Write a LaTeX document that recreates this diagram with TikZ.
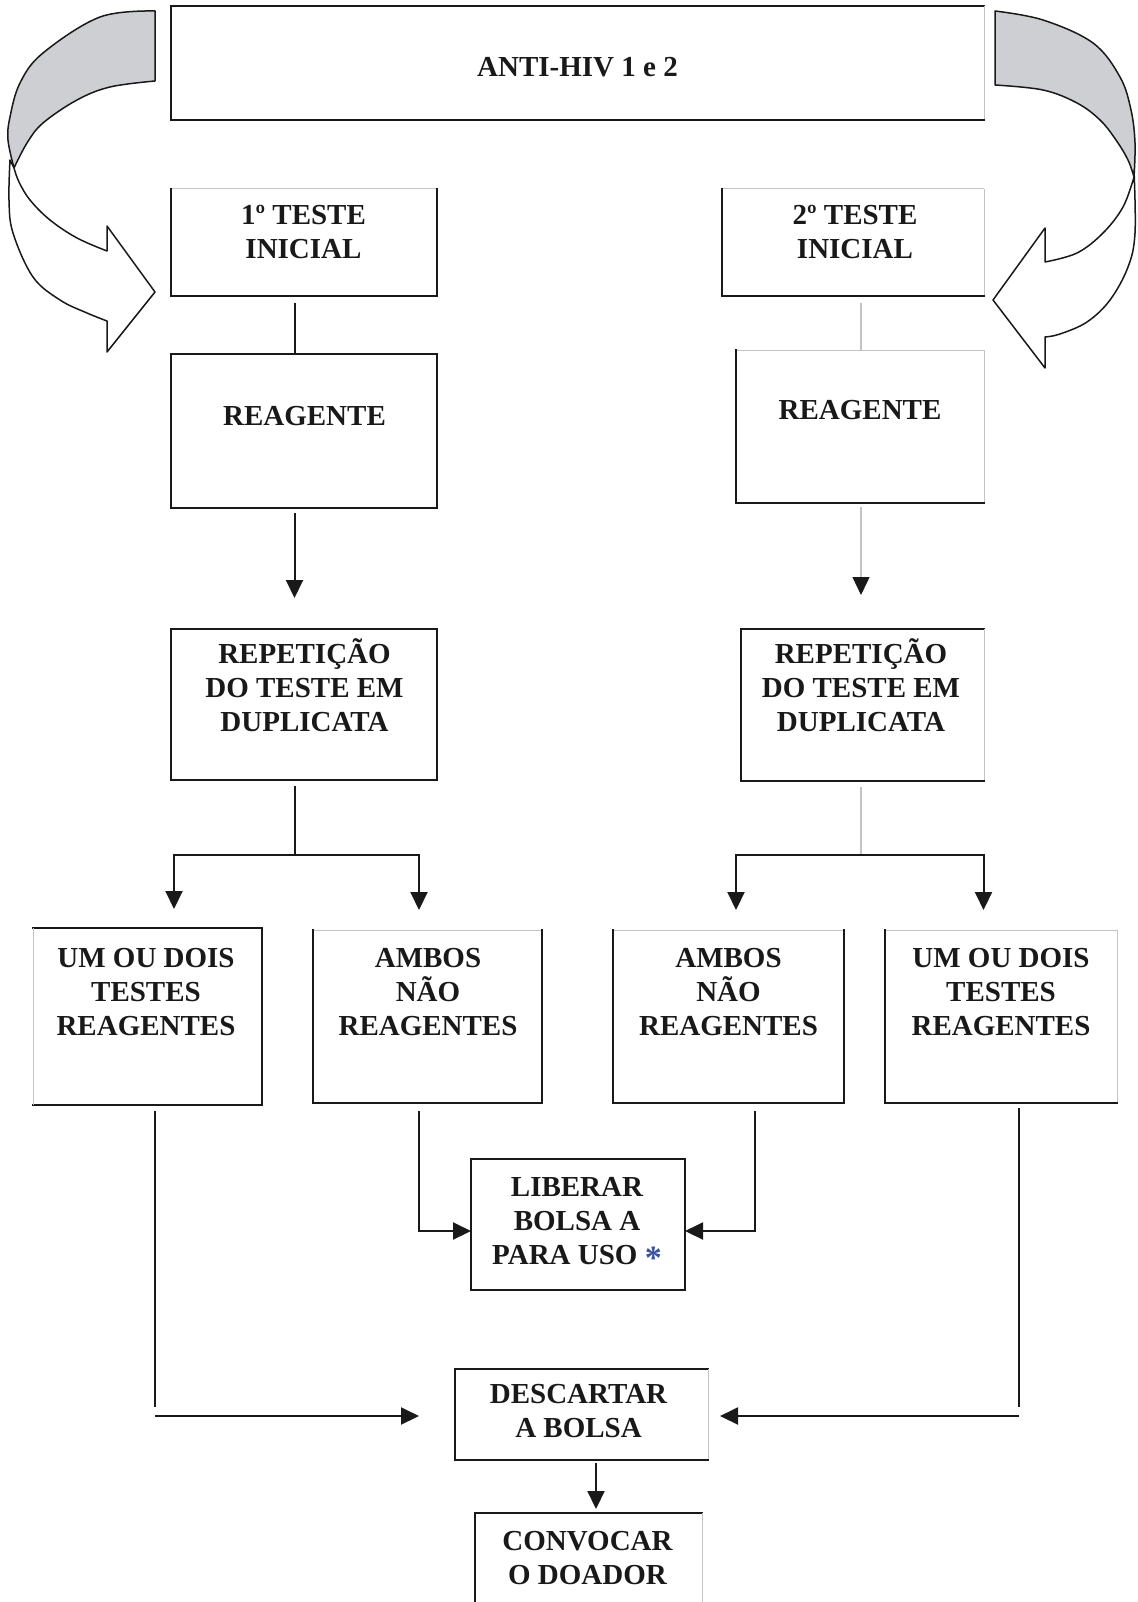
\documentclass[tikz,border=0pt]{standalone}
\usepackage{fontspec}
\setmainfont{Liberation Serif}
\usetikzlibrary{arrows.meta,calc}

\definecolor{ink}{RGB}{25,25,25}
\definecolor{edgegrey}{RGB}{195,195,195}
\definecolor{bandgrey}{RGB}{205,207,210}
\definecolor{starblue}{RGB}{60,80,160}

% strut that fixes the height of the first text line
\newcommand\tstrut{\rule{0pt}{27pt}}

% draw the four sides of a box node, each with its own style
% #1 node, #2 top, #3 right, #4 bottom, #5 left
\newcommand\boxsides[5]{%
  \draw[#2] (#1.north west) -- (#1.north east);
  \draw[#3] (#1.north east) -- (#1.south east);
  \draw[#4] (#1.south east) -- (#1.south west);
  \draw[#5] (#1.south west) -- (#1.north west);}

\tikzset{
  box/.style={rectangle, draw=none, inner sep=0pt, outer sep=0pt},
  txt/.style={anchor=north, inner sep=0pt, align=center, text=ink,
              font=\fontsize{29}{34}\selectfont\bfseries},
  ek/.style={draw=ink, line width=2pt, line cap=rect},
  eg/.style={draw=edgegrey, line width=1pt},
  en/.style={draw=none},
  link/.style={draw=ink, line width=2pt},
  glink/.style={draw=edgegrey, line width=1.2pt},
  arr/.style={link, -{Triangle[length=18pt, width=17pt]}},
  garr/.style={glink, -{Triangle[length=18pt, width=17pt, color=ink]}},
  band/.style={fill=bandgrey, draw=ink, line width=1.5pt, line join=round},
  front/.style={fill=white, draw=ink, line width=1.5pt, line join=round},
}

\begin{document}
\begin{tikzpicture}[x=1pt, y=-1pt]
\useasboundingbox (0,0) rectangle (1137,1602);

% ---------- curved arrows around the heading ----------
% left: shaded back part, then the white front with its head
\draw[band] plot[smooth, tension=0.6] coordinates
  {(155,11) (100,17) (43,53) (20,83) (10,117) (8,140) (14,168)}
  -- plot[smooth, tension=0.6] coordinates
  {(14,168) (27,143) (43,123) (77,100) (110,87) (155,81)} -- cycle;
\draw[front] plot[smooth, tension=0.6] coordinates
  {(10,160) (9,200) (13,233) (33,277) (60,300) (87,313) (107,321)}
  -- (107,352) -- (155,292) -- (107,226) -- (107,251)
  -- plot[smooth, tension=0.6] coordinates
  {(107,251) (77,238) (50,220) (30,200) (19,182) (14,168)} -- cycle;

% right: mirrored shape
\draw[band] plot[smooth, tension=0.6] coordinates
  {(995,11) (1043,20) (1093,43) (1120,77) (1131,110) (1135,143) (1134,177)}
  -- plot[smooth, tension=0.6] coordinates
  {(1134,177) (1128,160) (1116,140) (1100,120) (1077,103) (1043,90) (995,85)} -- cycle;
\draw[front] plot[smooth, tension=0.6] coordinates
  {(1134,170) (1135,233) (1128,267) (1110,300) (1087,322) (1060,334) (1045,337)}
  -- (1045,368) -- (993,300) -- (1045,228) -- (1045,262)
  -- plot[smooth, tension=0.6] coordinates
  {(1045,262) (1077,253) (1103,233) (1123,207) (1134,177)} -- cycle;

% ---------- boxes ----------
\node[box, minimum width=813pt, minimum height=114pt] (top)  at (577.5,63)    {};
\node[box, minimum width=266pt, minimum height=107pt] (t1)   at (304,242.5)   {};
\node[box, minimum width=262pt, minimum height=107pt] (t2)   at (853,242.5)   {};
\node[box, minimum width=266pt, minimum height=154pt] (r1)   at (304,431)     {};
\node[box, minimum width=248pt, minimum height=153pt] (r2)   at (860,426.5)   {};
\node[box, minimum width=266pt, minimum height=151pt] (p1)   at (304,704.5)   {};
\node[box, minimum width=243pt, minimum height=152pt] (p2)   at (862.5,705)   {};
\node[box, minimum width=229pt, minimum height=177pt] (u1)   at (147.5,1016.5){};
\node[box, minimum width=229pt, minimum height=173pt] (a1)   at (427.5,1016.5){};
\node[box, minimum width=231pt, minimum height=173pt] (a2)   at (728.5,1016.5){};
\node[box, minimum width=232pt, minimum height=173pt] (u2)   at (1001,1016.5) {};
\node[box, minimum width=214pt, minimum height=131pt] (lib)  at (578,1224.5)  {};
\node[box, minimum width=253pt, minimum height=91pt]  (desc) at (581.5,1414.5){};
\node[box, minimum width=227pt, minimum height=91pt]  (conv) at (588.5,1558.5){};

\boxsides{top}{ek}{eg}{ek}{ek}
\boxsides{t1}{eg}{ek}{ek}{ek}
\boxsides{t2}{eg}{eg}{ek}{ek}
\boxsides{r1}{ek}{ek}{ek}{ek}
\boxsides{r2}{eg}{eg}{ek}{ek}
\boxsides{p1}{ek}{ek}{ek}{ek}
\boxsides{p2}{ek}{eg}{ek}{ek}
\boxsides{u1}{ek}{ek}{ek}{eg}
\boxsides{a1}{eg}{ek}{ek}{ek}
\boxsides{a2}{eg}{ek}{ek}{ek}
\boxsides{u2}{eg}{eg}{ek}{ek}
\boxsides{lib}{ek}{ek}{ek}{ek}
\boxsides{desc}{ek}{eg}{ek}{ek}
\boxsides{conv}{ek}{eg}{en}{ek}

% ---------- texts ----------
\node[txt] (top-t)  at (577.5,49)  {\tstrut ANTI-HIV 1 e 2};
\node[txt] (t1-t)   at (303.5,197) {\tstrut 1º TESTE\\INICIAL};
\node[txt] (t2-t)   at (855,197)   {\tstrut 2º TESTE\\INICIAL};
\node[txt] (r1-t)   at (304.5,398) {\tstrut REAGENTE};
\node[txt] (r2-t)   at (860,392)   {\tstrut REAGENTE};
\node[txt] (p1-t)   at (304.5,636) {\tstrut REPETIÇÃO\\DO TESTE EM\\DUPLICATA};
\node[txt] (p2-t)   at (861,636)   {\tstrut REPETIÇÃO\\DO TESTE EM\\DUPLICATA};
\node[txt] (u1-t)   at (146,940)   {\tstrut UM OU DOIS\\TESTES\\REAGENTES};
\node[txt] (a1-t)   at (428,940)   {\tstrut AMBOS\\NÃO\\REAGENTES};
\node[txt] (a2-t)   at (728.5,940) {\tstrut AMBOS\\NÃO\\REAGENTES};
\node[txt] (u2-t)   at (1001,940)  {\tstrut UM OU DOIS\\TESTES\\REAGENTES};
\node[txt] (lib-t)  at (577,1169.5)
  {\tstrut LIBERAR\\BOLSA A\\PARA USO \textcolor{starblue}{\raisebox{-5pt}{\fontsize{34}{34}\selectfont *}}};
\node[txt] (desc-t) at (578.5,1376.5) {\tstrut DESCARTAR\\A BOLSA};
\node[txt] (conv-t) at (587.5,1523.5) {\tstrut CONVOCAR\\O DOADOR};

% ---------- connector columns ----------
\coordinate (xl)  at (294.5,0);
\coordinate (xr)  at (861,0);
\coordinate (xu1) at (155.3,0);
\coordinate (xa1) at (419,0);
\coordinate (xa2) at (755,0);
\coordinate (xu2) at (1019,0);
\coordinate (xd)  at (596,0);
\coordinate (jl)  at (294.5,855);
\coordinate (jr)  at (861,855);

% left column
\draw[link] ($(t1.south -| xl)+(0,7)$) -- (r1.north -| xl);
\draw[arr]  ($(r1.south -| xl)+(0,5)$) -- ($(p1.north -| xl)+(0,-31)$);
\draw[link] ($(p1.south -| xl)+(0,6)$) -- (jl);
\draw[arr]  (jl) -| ($(u1.north)+(26.5,-19)$);
\draw[arr]  (jl) -| ($(a1.north)+(-8.5,-20)$);

% right column
\draw[glink] ($(t2.south -| xr)+(0,7)$) -- (r2.north -| xr);
\draw[garr]  ($(r2.south -| xr)+(0,4)$) -- ($(p2.north -| xr)+(0,-34)$);
\draw[glink] ($(p2.south -| xr)+(0,6)$) -- (jr);
\draw[arr]   (jr) -| ($(a2.north)+(7.5,-20)$);
\draw[arr]   (jr) -| ($(u2.north)+(-17.5,-20)$);

% results
\draw[arr]  ($(a1.south -| xa1)+(0,8)$) |- ($(lib.west)+(0,6.5)$);
\draw[arr]  ($(a2.south -| xa2)+(0,8)$) |- ($(lib.east)+(0,6.5)$);
\draw[link] ($(u1.south -| xu1)+(0,6)$) -- ($(desc.west -| xu1)+(0,-8)$);
\draw[arr]  ($(desc.west -| xu1)+(0,1.5)$) -- ($(desc.west)+(-36,1.5)$);
\draw[link] ($(u2.south -| xu2)+(0,5)$) -- ($(desc.east -| xu2)+(0,-8)$);
\draw[arr]  ($(desc.east -| xu2)+(0,1.5)$) -- ($(desc.east)+(12,1.5)$);
\draw[arr]  ($(desc.south -| xd)+(0,3)$) -- ($(conv.north -| xd)+(0,-4)$);
\end{tikzpicture}
\end{document}
